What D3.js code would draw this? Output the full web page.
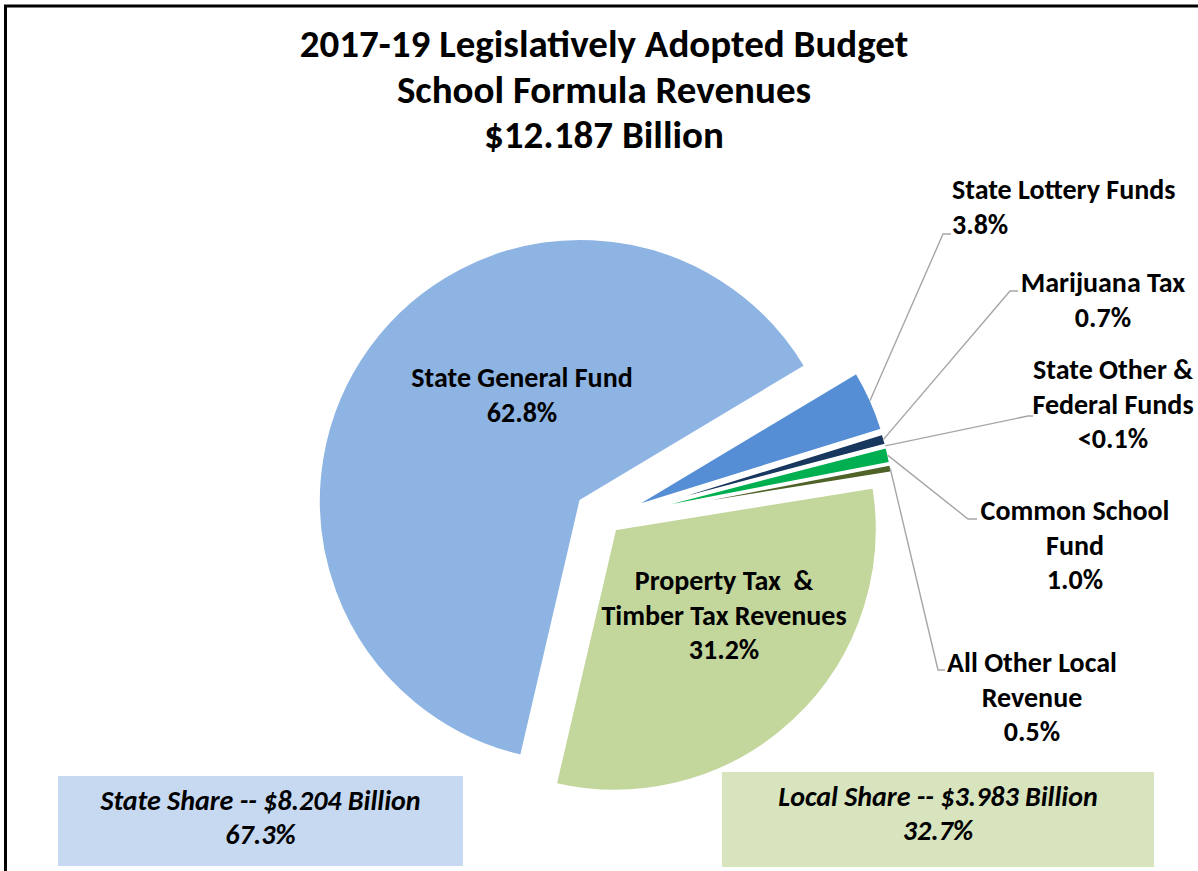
<!DOCTYPE html>
<html>
<head>
<meta charset="utf-8">
<script src="https://cdn.jsdelivr.net/npm/d3@7"></script>
<style>
  html, body { margin: 0; padding: 0; background: #fff; }
  svg text { font-family: Carlito, Calibri, Lato, sans-serif; font-weight: bold; fill: #000; white-space: pre; }
</style>
</head>
<body>
<svg id="chart" width="1198" height="871"></svg>
<script>
// ---- data ----
const titleLines = ["2017-19 Legislatively Adopted Budget", "School Formula Revenues", "$12.187 Billion"];
const categories = [
  "State General Fund",
  "State Lottery Funds",
  "Marijuana Tax",
  "State Other & Federal Funds",
  "Common School Fund",
  "All Other Local Revenue",
  "Property Tax & Timber Tax Revenues"
];
const shares = [62.8, 3.8, 0.7, 0.05, 1.0, 0.5, 31.2];
const shareLabels = ["62.8%", "3.8%", "0.7%", "<0.1%", "1.0%", "0.5%", "31.2%"];
const labelLines = [
  ["State General Fund"],
  ["State Lottery Funds"],
  ["Marijuana Tax"],
  ["State Other &", "Federal Funds"],
  ["Common School", "Fund"],
  ["All Other Local", "Revenue"],
  ["Property Tax  &", "Timber Tax Revenues"]
];
const shareGroups = ["State Share -- $8.204 Billion", "Local Share -- $3.983 Billion"];
const shareGroupPct = ["67.3%", "32.7%"];

// ---- styling / layout ----
const colors = ["#8EB4E3", "#558ED5", "#17375E", "#7F7F7F", "#00B050", "#4F6228", "#C3D69B"];
const explode = [31, 28.5, 28, 28, 28, 28, 13.6];
const cx = 605.7, cy = 519, R = 262;
const startDeg = 193.1;

// label placement: inside = drawn on the slice; otherwise a leader line bends at elbow
const labelLayout = [
  { inside: true, x: 522, y: 387, anchor: "middle" },
  { x: 952, y: 199, anchor: "start", elbow: [943, 234], end: [951, 234] },
  { x: 1103, y: 292, anchor: "middle", elbow: [1010, 291], end: [1018, 291] },
  { x: 1113, y: 379, anchor: "middle", elbow: [1028, 416], end: [1033, 416] },
  { x: 1075, y: 520, anchor: "middle", elbow: [968, 519], end: [977, 519] },
  { x: 1032, y: 672, anchor: "middle", elbow: [938, 670], end: [945, 670] },
  { inside: true, x: 724, y: 590, anchor: "middle" }
];
const lineGap = 34.5;
const labelSize = 28;
const boxes = [
  { x: 58, y: 776, w: 405, h: 90, fill: "#C6D9F1", textTop: 34 },
  { x: 722, y: 772, w: 432, h: 95, fill: "#D7E4BD", textTop: 34 }
];

const svg = d3.select("#chart");
svg.append("rect").attr("width", 1198).attr("height", 871).attr("fill", "#fff");

// frame (top and left edges visible)
svg.append("rect")
  .attr("x", 5.5).attr("y", 6)
  .attr("width", 1400).attr("height", 1000)
  .attr("fill", "none").attr("stroke", "#000").attr("stroke-width", 3);

// title
svg.append("g").selectAll("text").data(titleLines).join("text")
  .attr("x", 604)
  .attr("y", (d, i) => 57 + i * 45.5)
  .attr("text-anchor", "middle")
  .style("font-size", "39px")
  .text(d => d);

// pie
const toRad = Math.PI / 180;
const pie = d3.pie().sort(null).value(d => d)
  .startAngle(startDeg * toRad).endAngle((startDeg + 360) * toRad);
const arcs = pie(shares);
const arcGen = d3.arc().innerRadius(0).outerRadius(R);
const mid = a => (a.startAngle + a.endAngle) / 2;
const unit = ang => [Math.sin(ang), -Math.cos(ang)];

const pieG = svg.append("g").attr("transform", `translate(${cx},${cy})`);
pieG.selectAll("path").data(arcs).join("path")
  .attr("transform", (a, i) => {
    const u = unit(mid(a));
    return `translate(${u[0] * explode[i]},${u[1] * explode[i]})`;
  })
  .attr("d", arcGen)
  .attr("fill", (a, i) => colors[i])
  .attr("stroke", "#fff")
  .attr("stroke-width", 2.5)
  .attr("stroke-linejoin", "miter");

// leader lines
const leaderG = svg.append("g");
arcs.forEach((a, i) => {
  const L = labelLayout[i];
  if (L.inside) return;
  const u = unit(mid(a));
  const r = R + explode[i] - 1;
  const start = [cx + u[0] * r, cy + u[1] * r];
  leaderG.append("polyline")
    .attr("points", [start, L.elbow, L.end].map(p => p.join(",")).join(" "))
    .attr("fill", "none")
    .attr("stroke", "#A6A6A6")
    .attr("stroke-width", 1.4);
});

// slice labels
const labG = svg.append("g");
arcs.forEach((a, i) => {
  const L = labelLayout[i];
  const lines = labelLines[i].concat([shareLabels[i]]);
  lines.forEach((t, j) => {
    labG.append("text")
      .attr("x", L.x)
      .attr("y", L.y + j * lineGap)
      .attr("text-anchor", L.anchor)
      .style("font-size", labelSize + "px")
      .text(t);
  });
});

// share summary boxes
boxes.forEach((b, i) => {
  svg.append("rect")
    .attr("x", b.x).attr("y", b.y).attr("width", b.w).attr("height", b.h)
    .attr("fill", b.fill);
  [shareGroups[i], shareGroupPct[i]].forEach((t, j) => {
    svg.append("text")
      .attr("x", b.x + b.w / 2)
      .attr("y", b.y + b.textTop + j * 34)
      .attr("text-anchor", "middle")
      .style("font-size", labelSize + "px")
      .style("font-style", "italic")
      .text(t);
  });
});
</script>
</body>
</html>
